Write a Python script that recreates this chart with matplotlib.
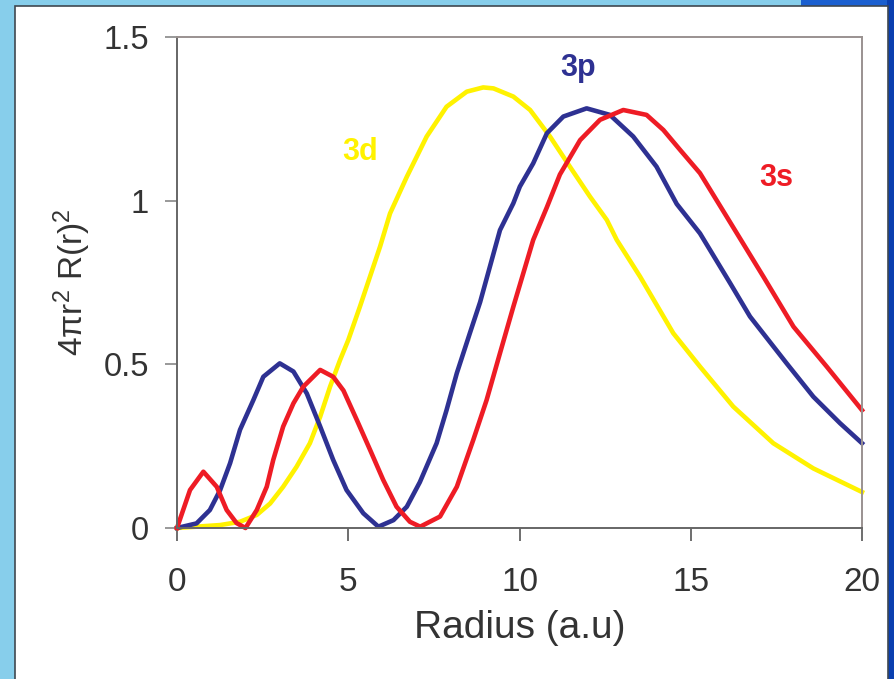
import matplotlib
matplotlib.use("Agg")
import matplotlib.pyplot as plt
from matplotlib.patches import Rectangle

# ---- data ----
x_3s = [0, 0.38, 0.77, 1.16, 1.45, 1.74, 2.0, 2.33, 2.62, 2.81, 3.1, 3.4, 3.69, 4.18, 4.56, 4.86,
        5.25, 5.64, 6.02, 6.41, 6.8, 7.1, 7.68, 8.17, 8.65, 9.04, 9.43, 9.82, 10.4, 10.8, 11.18,
        11.77, 12.35, 13.03, 13.71, 14.2, 14.69, 15.27, 16.05, 17.12, 18.0, 18.97, 20.0]
y_3s = [0, 0.116, 0.172, 0.126, 0.055, 0.015, 0.0, 0.055, 0.126, 0.208, 0.31, 0.381, 0.432, 0.483,
        0.462, 0.42, 0.33, 0.238, 0.147, 0.065, 0.019, 0.004, 0.035, 0.126, 0.269, 0.391, 0.534,
        0.676, 0.88, 0.98, 1.08, 1.185, 1.247, 1.277, 1.262, 1.216, 1.155, 1.084, 0.951, 0.768,
        0.615, 0.493, 0.36]

x_3p = [0, 0.57, 0.96, 1.26, 1.55, 1.84, 2.23, 2.52, 3.0, 3.4, 3.79, 4.18, 4.56, 4.95, 5.44, 5.88,
        6.32, 6.71, 7.09, 7.58, 7.87, 8.17, 8.55, 8.85, 9.43, 9.82, 10.01, 10.4, 10.8, 11.28,
        11.96, 12.64, 13.32, 14.0, 14.59, 15.27, 16.15, 16.73, 17.8, 18.58, 19.36, 20.0]
y_3p = [0, 0.014, 0.055, 0.116, 0.198, 0.3, 0.391, 0.462, 0.503, 0.478, 0.411, 0.31, 0.208, 0.116,
        0.045, 0.004, 0.024, 0.065, 0.14, 0.259, 0.36, 0.473, 0.595, 0.69, 0.91, 0.992, 1.043,
        1.114, 1.206, 1.257, 1.282, 1.262, 1.196, 1.104, 0.99, 0.9, 0.748, 0.646, 0.503, 0.401,
        0.32, 0.259]

x_3d = [0, 1.26, 1.84, 2.33, 2.72, 3.1, 3.49, 3.88, 4.18, 4.47, 4.76, 5.0, 5.34, 5.93, 6.22, 6.71,
        7.29, 7.87, 8.46, 8.94, 9.24, 9.82, 10.31, 10.89, 11.47, 12.06, 12.55, 12.84, 13.52, 14.49,
        15.27, 16.24, 17.41, 18.58, 20.0]
y_3d = [0, 0.009, 0.019, 0.04, 0.075, 0.126, 0.187, 0.259, 0.34, 0.432, 0.513, 0.574, 0.676, 0.86,
        0.961, 1.073, 1.196, 1.287, 1.333, 1.346, 1.343, 1.318, 1.277, 1.196, 1.104, 1.012, 0.941,
        0.88, 0.768, 0.595, 0.493, 0.371, 0.259, 0.182, 0.11]

x_ticks = [0, 5, 10, 15, 20]
y_ticks = [0, 0.5, 1, 1.5]
y_tick_labels = ["0", "0.5", "1", "1.5"]

RED = "#EE1C25"
BLUE = "#2E3192"
YELLOW = "#FFF200"

plt.rcParams['font.family'] = ['Liberation Sans', 'DejaVu Sans']
plt.rcParams['mathtext.fontset'] = 'custom'
plt.rcParams['mathtext.rm'] = 'Liberation Sans'
plt.rcParams['mathtext.it'] = 'Liberation Sans'
plt.rcParams['mathtext.bf'] = 'Liberation Sans:bold'

W, H = 895, 679
fig = plt.figure(figsize=(W / 100, H / 100), dpi=100)
fig.patch.set_facecolor("#87CEEB")

# background panels (figure pixel coords -> fraction)
def fx(px):
    return px / W

def fy(py):
    return 1 - py / H

fig.patches.append(Rectangle((fx(801), fy(8)), fx(94), 8 / H, transform=fig.transFigure,
                             facecolor="#1a5fd0", edgecolor="none", zorder=0))
fig.patches.append(Rectangle((fx(887), 0), fx(8), 1, transform=fig.transFigure,
                             facecolor="#0a3fb0", edgecolor="none", zorder=0))
fig.patches.append(Rectangle((fx(15), -0.01), fx(873), fy(6) + 0.01, transform=fig.transFigure,
                             facecolor="white", edgecolor="#404850", linewidth=1.2, zorder=1))

ax = fig.add_axes([fx(177), fy(528), fx(862) - fx(177), fy(37) - fy(528)])
ax.set_facecolor("white")
ax.set_zorder(2)

lw = 3.3
ax.plot(x_3d, y_3d, color=YELLOW, lw=lw, solid_joinstyle='round', clip_on=False)
ax.plot(x_3p, y_3p, color=BLUE, lw=lw, solid_joinstyle='round', clip_on=False)
ax.plot(x_3s, y_3s, color=RED, lw=lw, solid_joinstyle='round', clip_on=False)

ax.set_xlim(0, 20)
ax.set_ylim(0, 1.5)
ax.set_xticks(x_ticks)
ax.set_yticks(y_ticks)
ax.set_yticklabels(y_tick_labels)

for s in ["left", "bottom"]:
    ax.spines[s].set_color("#666666")
    ax.spines[s].set_linewidth(1.4)
for s in ["top", "right"]:
    ax.spines[s].set_color("#9a9290")
    ax.spines[s].set_linewidth(1.4)

ax.tick_params(axis='y', direction='out', length=9, width=1.2, color="#888888",
               labelsize=23.5, labelcolor="#333333", pad=11)
ax.tick_params(axis='x', direction='out', length=9, width=1.2, color="#555555",
               labelsize=24, labelcolor="#333333", pad=19)

ax.set_xlabel("Radius (a.u)", fontsize=28, color="#333333")
ax.xaxis.set_label_coords(0.5, -0.168)
ax.set_ylabel(r"4$\pi$r$^2$ R(r)$^2$", fontsize=24, color="#333333")
ax.yaxis.set_label_coords(-0.122, 0.5)

ax.text(5.35, 1.15, "3d", color=YELLOW, fontsize=22, fontweight='bold', ha='center', va='center')
ax.text(11.7, 1.405, "3p", color=BLUE, fontsize=22, fontweight='bold', ha='center', va='center')
ax.text(17.5, 1.07, "3s", color=RED, fontsize=22, fontweight='bold', ha='center', va='center')

fig.savefig("out.png", dpi=100, facecolor=fig.get_facecolor())
